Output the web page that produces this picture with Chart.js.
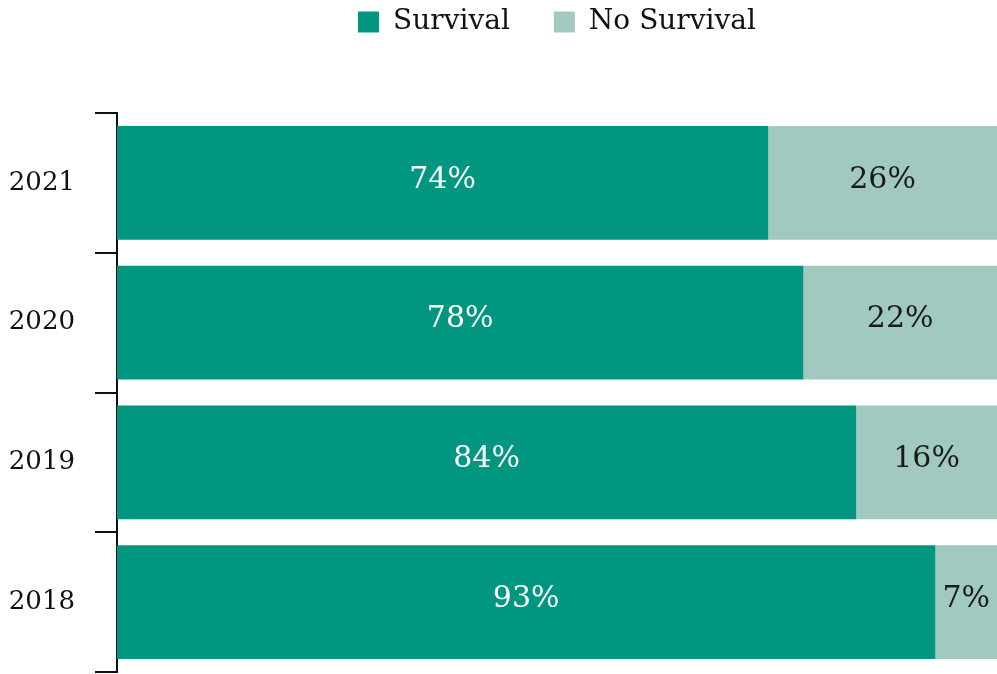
<!DOCTYPE html>
<html>
<head>
<meta charset="utf-8">
<script src="https://cdn.jsdelivr.net/npm/chart.js@4"></script>
<style>
  html, body { margin: 0; padding: 0; background: #fff; }
  #wrap { width: 997px; height: 674px; }
</style>
</head>
<body>
<div id="wrap"><canvas id="survivalChart"></canvas></div>
<script>
const years = ["2021", "2020", "2019", "2018"];
const survival = [74, 78, 84, 93];
const noSurvival = [26, 22, 16, 7];

const FONT = "'DejaVu Serif', Georgia, serif";

// percent labels inside each segment
const segmentLabels = {
  id: "segmentLabels",
  afterDatasetsDraw(chart) {
    const ctx = chart.ctx;
    ctx.save();
    ctx.font = "30px " + FONT;
    ctx.textAlign = "center";
    ctx.textBaseline = "middle";
    chart.data.datasets.forEach((ds, i) => {
      const meta = chart.getDatasetMeta(i);
      meta.data.forEach((bar, j) => {
        const p = bar.getCenterPoint();
        ctx.fillStyle = i === 0 ? "#ffffff" : "#1a1a1a";
        ctx.fillText(ds.data[j] + "%", p.x, p.y - 3);
      });
    });
    ctx.restore();
  },
};

new Chart(document.getElementById("survivalChart"), {
  type: "bar",
  data: {
    labels: years,
    datasets: [
      {
        label: "Survival",
        data: survival,
        backgroundColor: "#00967f",
        categoryPercentage: 1,
        barPercentage: 0.815,
      },
      {
        label: "No Survival",
        data: noSurvival,
        backgroundColor: "#a1c9c0",
        categoryPercentage: 1,
        barPercentage: 0.815,
      },
    ],
  },
  options: {
    indexAxis: "y",
    responsive: true,
    maintainAspectRatio: false,
    animation: false,
    layout: { padding: { top: -36, right: 0, bottom: 2, left: 0 } },
    plugins: {
      legend: {
        position: "top",
        fullSize: false,
        weight: 3000,
        labels: {
          boxWidth: 21,
          boxHeight: 21,
          padding: 44,
          color: "#111",
          font: { family: FONT, size: 28 },
        },
      },
      // empty title used as a spacer between legend and bars
      title: {
        display: true,
        text: "",
        font: { size: 1, lineHeight: 1 },
        padding: 33,
      },
      tooltip: { enabled: false },
    },
    scales: {
      x: {
        stacked: true,
        min: 0,
        max: 100,
        display: false,
      },
      y: {
        stacked: true,
        border: { display: true, color: "#111", width: 2 },
        grid: {
          drawOnChartArea: false,
          color: "#111",
          lineWidth: 2,
          tickLength: 22,
        },
        ticks: {
          color: "#111",
          padding: 20,
          font: { family: FONT, size: 26 },
        },
        afterFit(scale) {
          scale.width = 117;
          scale.paddingTop = 0;
          scale.paddingBottom = 0;
        },
      },
    },
  },
  plugins: [segmentLabels],
});
</script>
</body>
</html>
